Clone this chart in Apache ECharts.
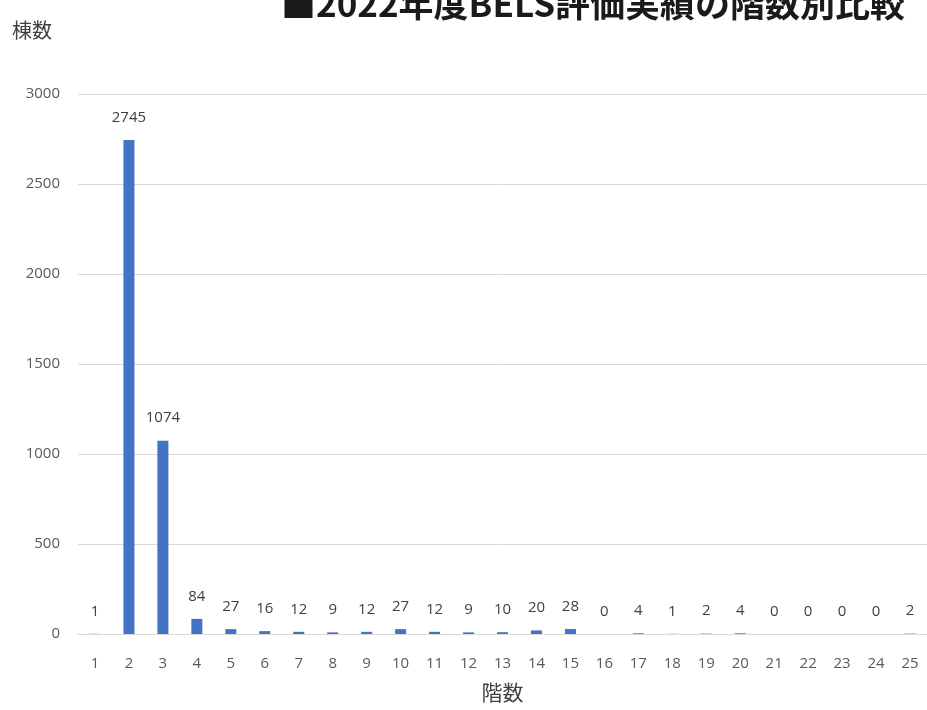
<!DOCTYPE html>
<html>
<head>
<meta charset="utf-8">
<script src="https://cdn.jsdelivr.net/npm/echarts@6/dist/echarts.min.js"></script>
<style>
  html, body { margin: 0; padding: 0; background: #fff; }
  #chart { width: 927px; height: 710px; }
</style>
</head>
<body>
<div id="chart"></div>
<script>
// 階数 (floors) and 棟数 (building count)
const floors = ["1","2","3","4","5","6","7","8","9","10","11","12","13","14","15","16","17","18","19","20","21","22","23","24","25"];
const counts = [1, 2745, 1074, 84, 27, 16, 12, 9, 12, 27, 12, 9, 10, 20, 28, 0, 4, 1, 2, 4, 0, 0, 0, 0, 2];
const yTicks = [0, 500, 1000, 1500, 2000, 2500, 3000];

const font = '"Open Sans", "Noto Sans CJK JP", sans-serif';
const chart = echarts.init(document.getElementById("chart"));

chart.setOption({
  animation: false,
  title: {
    text: "■2022年度BELS評価実績の階数別比較",
    left: 588,
    textAlign: "center",
    top: -19,
    textStyle: { fontFamily: '"Noto Sans CJK JP", sans-serif', fontSize: 35, fontWeight: "bold", color: "#1a1a1a" }
  },
  grid: { left: 78, right: -4, top: 94, bottom: 76 },
  xAxis: {
    type: "category",
    data: floors,
    name: "階数",
    nameLocation: "middle",
    nameGap: 48,
    nameTextStyle: { fontFamily: '"Noto Sans CJK JP", sans-serif', fontSize: 21, color: "#404040" },
    axisLine: { lineStyle: { color: "#d9d9d9" } },
    axisTick: { show: false },
    axisLabel: { fontFamily: font, fontSize: 15, color: "#595959", margin: 22 }
  },
  yAxis: {
    type: "value",
    min: yTicks[0],
    max: yTicks[yTicks.length - 1],
    interval: 500,
    name: "棟数",
    nameLocation: "end",
    nameGap: 0,
    nameTextStyle: { fontFamily: '"Noto Sans CJK JP", sans-serif', fontSize: 20, color: "#404040", align: "left", padding: [0, 0, 54, -66] },
    axisLine: { show: false },
    axisTick: { show: false },
    axisLabel: {
      fontFamily: font, fontSize: 15, color: "#595959", margin: 18,
      formatter: function (v) { return String(v); }
    },
    splitLine: { lineStyle: { color: "#d9d9d9" } }
  },
  series: [
    {
      type: "bar",
      data: counts,
      barWidth: 11,
      itemStyle: { color: "#4472c4" },
      label: {
        show: true,
        position: "top",
        distance: 15,
        fontFamily: font,
        fontSize: 15,
        color: "#404040"
      }
    }
  ]
});
</script>
</body>
</html>
